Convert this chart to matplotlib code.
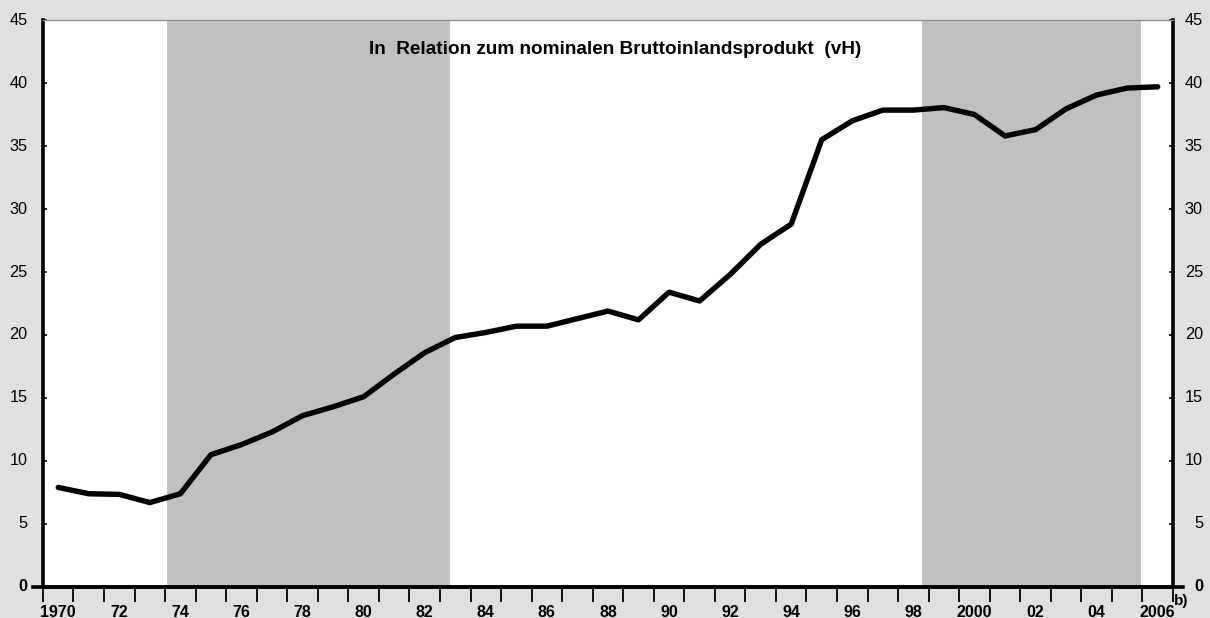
import matplotlib
matplotlib.use("Agg")
import matplotlib.pyplot as plt
from matplotlib.ticker import FixedLocator, NullFormatter
from matplotlib.transforms import blended_transform_factory

plt.rcParams['font.family'] = ['Liberation Sans', 'DejaVu Sans']

# Anteil in vH des nominalen BIP
years = list(range(1970, 2007))
values = [7.9, 7.4, 7.35, 6.7, 7.4, 10.5, 11.3, 12.3, 13.6, 14.3, 15.1, 16.9, 18.6,
          19.8, 20.2, 20.7, 20.7, 21.3, 21.9, 21.2, 23.4, 22.7, 24.8, 27.2, 28.8,
          35.5, 37.0, 37.85, 37.85, 38.05, 37.5, 35.8, 36.3, 37.95, 39.05, 39.6, 39.7]
shade_periods = [(1973.56, 1982.83), (1998.28, 2005.45)]
label_years = list(range(1970, 2007, 2))
label_texts = ["1970"] + [f"{y % 100:02d}" for y in range(1972, 2000, 2)] + \
              ["2000"] + [f"{y % 100:02d}" for y in range(2002, 2006, 2)] + ["2006"]
y_ticks = list(range(0, 46, 5))
title = "In  Relation zum nominalen Bruttoinlandsprodukt  (vH)"

fig = plt.figure(figsize=(12.1, 6.18), dpi=100)
fig.patch.set_facecolor('#e0e0e0')
ax = fig.add_axes([0.0355, 0.0502, 0.9339, 0.9174])
ax.set_facecolor('white')

for x0, x1 in shade_periods:
    ax.axvspan(x0, x1, color='#c0c0c0', lw=0, zorder=1)

ax.plot(years, values, color='black', lw=3.9, solid_capstyle='round',
        solid_joinstyle='round', zorder=3)

ax.set_xlim(1969.5, 2006.5)
ax.set_ylim(0, 45)

# x axis: boundaries as tick marks, labels at year centres
ax.xaxis.set_major_locator(FixedLocator(label_years))
ax.set_xticklabels(label_texts, fontweight='bold', fontsize=11.5)
ax.xaxis.set_minor_locator(FixedLocator([y - 0.5 for y in years] + [2006.5]))
ax.tick_params(axis='x', which='major', length=0, pad=13)
ax.tick_params(axis='x', which='minor', length=11, width=1.3, direction='out', color='black')

# y axis on both sides, labels written by hand
ax.yaxis.set_major_locator(FixedLocator(y_ticks))
ax.yaxis.set_major_formatter(NullFormatter())
ax.tick_params(axis='y', which='major', direction='in', length=3, width=1.2,
               left=True, right=True)
tr = blended_transform_factory(ax.transAxes, ax.transData)
for v in y_ticks:
    w = 'bold' if v == 0 else 'normal'
    ax.text(-0.0135, v, str(v), transform=tr, ha='right', va='center',
            fontsize=11.7, fontweight=w)
    ax.text(1.0265, v, str(v), transform=tr, ha='right', va='center',
            fontsize=11.7, fontweight=w)

for side in ['left', 'right', 'bottom']:
    ax.spines[side].set_linewidth(2.6)
    ax.spines[side].set_color('black')
ax.spines['top'].set_linewidth(1)
ax.spines['top'].set_color('#909090')
ax.spines['bottom'].set_zorder(5)

# bottom line runs a little past both side axes
ax.plot([-0.009, 1.009], [0, 0], transform=ax.transAxes, color='black',
        lw=2.6, clip_on=False, zorder=5)

ax.text(0.506, 0.948, title, transform=ax.transAxes, ha='center', va='center',
        fontsize=13.7, fontweight='bold', zorder=4)
ax.text(1.001, -0.025, "b)", transform=ax.transAxes, ha='left', va='center',
        fontsize=11, fontweight='bold')

fig.savefig("out.png", dpi=100, facecolor=fig.get_facecolor())
